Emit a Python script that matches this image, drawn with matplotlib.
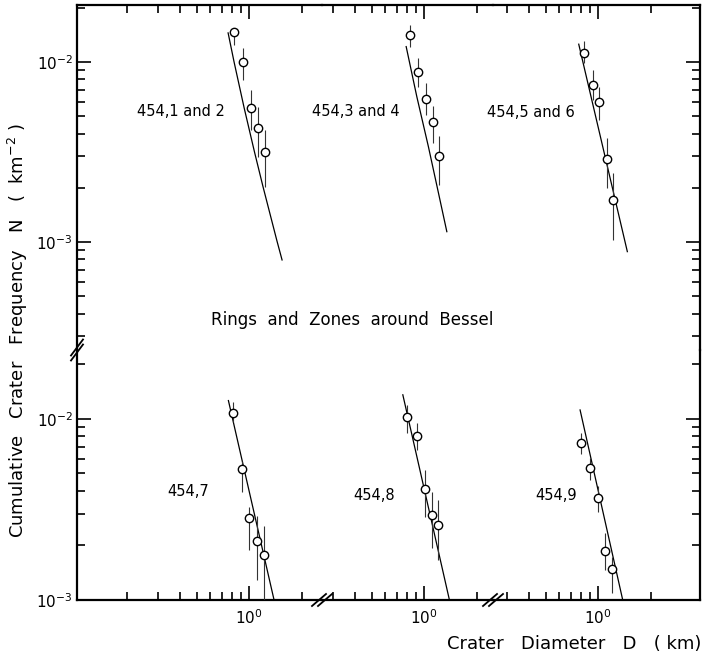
import matplotlib
matplotlib.use("Agg")
import matplotlib.pyplot as plt
from matplotlib import ticker, transforms

plt.rcParams['font.family'] = ['DejaVu Sans']

# panel labels (row-major: top row then bottom row)
labels = ["454,1 and 2", "454,3 and 4", "454,5 and 6", "454,7", "454,8", "454,9"]

# crater diameter D (km), cumulative frequency N (km^-2) with error range
d_12 = [0.820, 0.924, 1.027, 1.126, 1.235]
n_12 = [0.01468, 0.00994, 0.00555, 0.00430, 0.00316]
lo_12 = [0.01243, 0.00794, 0.00419, 0.00297, 0.00202]
hi_12 = [0.01545, 0.01196, 0.00699, 0.00562, 0.00419]
fit_d_12 = [0.758, 0.820, 0.937, 1.074, 1.203, 1.445, 1.546]
fit_n_12 = [0.01449, 0.01000, 0.00555, 0.00316, 0.00202, 0.001013, 0.000794]

d_34 = [0.831, 0.924, 1.027, 1.122, 1.219]
n_34 = [0.01413, 0.00883, 0.00623, 0.00466, 0.00301]
lo_34 = [0.01216, 0.00727, 0.00508, 0.00355, 0.00207]
hi_34 = [0.01607, 0.01052, 0.00764, 0.00570, 0.00388]
fit_d_34 = [0.789, 0.908, 1.058, 1.208, 1.349]
fit_n_34 = [0.01216, 0.00641, 0.00338, 0.00187, 0.00114]

d_56 = [0.831, 0.932, 1.017, 1.122, 1.224]
n_56 = [0.01118, 0.00745, 0.00602, 0.00289, 0.00171]
lo_56 = [0.00987, 0.00615, 0.00476, 0.00200, 0.001026]
hi_56 = [0.01313, 0.00903, 0.00727, 0.00379, 0.00242]
fit_d_56 = [0.775, 1.472]
fit_n_56 = [0.01254, 0.000883]

d_7 = [0.813, 0.908, 1.004, 1.116, 1.219]
n_7 = [0.01083, 0.00530, 0.00285, 0.00213, 0.00177]
lo_7 = [0.00962, 0.00394, 0.00189, 0.00129, 0.00100]
hi_7 = [0.01247, 0.00589, 0.00328, 0.00291, 0.00256]
fit_d_7 = [0.761, 1.391]
fit_n_7 = [0.01262, 0.00100]

d_8 = [0.802, 0.908, 1.009, 1.111, 1.198]
n_8 = [0.01030, 0.00805, 0.00409, 0.00294, 0.00259]
lo_8 = [0.00834, 0.00674, 0.00288, 0.00193, 0.00166]
hi_8 = [0.01195, 0.00954, 0.00523, 0.00396, 0.00357]
fit_d_8 = [0.755, 1.396]
fit_n_8 = [0.01358, 0.00100]

d_9 = [0.802, 0.900, 1.000, 1.102, 1.209]
n_9 = [0.00734, 0.00538, 0.00365, 0.00187, 0.00148]
lo_9 = [0.00641, 0.00460, 0.00308, 0.00147, 0.00109]
hi_9 = [0.00834, 0.00607, 0.00424, 0.00234, 0.00173]
fit_d_9 = [0.789, 1.385]
fit_n_9 = [0.0112, 0.00100]

panels = [
    (d_12, n_12, lo_12, hi_12, fit_d_12, fit_n_12),
    (d_34, n_34, lo_34, hi_34, fit_d_34, fit_n_34),
    (d_56, n_56, lo_56, hi_56, fit_d_56, fit_n_56),
    (d_7, n_7, lo_7, hi_7, fit_d_7, fit_n_7),
    (d_8, n_8, lo_8, hi_8, fit_d_8, fit_n_8),
    (d_9, n_9, lo_9, hi_9, fit_d_9, fit_n_9),
]

# broken axes: x range of each column, y range of each row
x_ranges = [(0.103, 2.62), (0.26, 2.48), (0.25, 3.84)]
y_ranges = [(2.51e-4, 0.0207), (1e-3, 0.024)]
x_minor = [0.2, 0.3, 0.4, 0.5, 0.6, 0.7, 0.8, 0.9, 2]
y_minor = [k * 10.0**e for e in (-4, -3, -2) for k in range(2, 10)]

W, H = 702, 656
col_px = [(77, 322), (322, 493), (493, 700)]
row_px = [(5, 350), (350, 600)]
label_pos = [(0.424, 0.69), (0.20, 0.69), (0.184, 0.687),
             (0.453, 0.432), (0.304, 0.42), (0.304, 0.42)]

fig = plt.figure(figsize=(W / 100, H / 100), dpi=100)

axes = []
for r in range(2):
    for c in range(3):
        x0, x1 = col_px[c]
        y0, y1 = row_px[r]
        ax = fig.add_axes([x0 / W, (H - y1) / H, (x1 - x0) / W, (y1 - y0) / H])
        ax.set_xscale('log')
        ax.set_yscale('log')
        ax.set_xlim(*x_ranges[c])
        ax.set_ylim(*y_ranges[r])
        ax.patch.set_alpha(0)

        for s in ax.spines.values():
            s.set_linewidth(1.6)
        ax.spines['top'].set_visible(r == 0)
        ax.spines['bottom'].set_visible(r == 1)
        ax.spines['left'].set_visible(c == 0)
        ax.spines['right'].set_visible(c == 2)

        ax.xaxis.set_major_locator(ticker.FixedLocator([1.0]))
        ax.xaxis.set_minor_locator(ticker.FixedLocator(x_minor))
        ax.yaxis.set_major_locator(ticker.FixedLocator([1e-3, 1e-2]))
        ax.yaxis.set_minor_locator(ticker.FixedLocator(y_minor))
        ax.xaxis.set_minor_formatter(ticker.NullFormatter())
        ax.yaxis.set_minor_formatter(ticker.NullFormatter())

        ax.tick_params(which='both', direction='in', width=1.2,
                       top=(r == 0), bottom=(r == 1),
                       left=(c == 0), right=(c == 2),
                       labeltop=False, labelbottom=(r == 1),
                       labelleft=(c == 0), labelright=False,
                       labelsize=11)
        ax.tick_params(which='major', length=10)
        ax.tick_params(which='minor', length=6)
        ax.tick_params(axis='x', pad=6)
        ax.tick_params(axis='y', pad=3)

        d, n, lo, hi, fd, fn = panels[r * 3 + c]
        ax.plot(fd, fn, color='black', lw=0.9, zorder=2)
        yerr = [[v - l for v, l in zip(n, lo)], [h - v for v, h in zip(n, hi)]]
        ax.errorbar(d, n, yerr=yerr, fmt='o', ms=6, mfc='white', mec='black',
                    mew=1.0, ecolor='0.2', elinewidth=0.8, capsize=0, zorder=3)
        lx, ly = label_pos[r * 3 + c]
        ax.text(lx, ly, labels[r * 3 + c], transform=ax.transAxes,
                ha='center', va='center', fontsize=10.5)
        axes.append(ax)


def break_mark(ax, xa, ya, dx, dy, gap_x, gap_y):
    # two short parallel slashes drawn across a spine
    tr = fig.dpi_scale_trans + transforms.ScaledTranslation(xa, ya, ax.transAxes)
    for k in (-0.5, 0.5):
        ox, oy = k * gap_x / 100, k * gap_y / 100
        ax.plot([ox - dx / 100, ox + dx / 100], [oy - dy / 100, oy + dy / 100],
                transform=tr, color='black', lw=1.3, clip_on=False, zorder=5)


# y-axis break on left spine, x-axis breaks on bottom spine
break_mark(axes[3], 0, 1, 6, 8, 0, 5)
break_mark(axes[4], 0, 0, 7, 6, 6, 0)
break_mark(axes[5], 0, 0, 7, 6, 6, 0)

fig.text(352 / W, (H - 320) / H, "Rings  and  Zones  around  Bessel",
         ha='center', va='center', fontsize=12)
fig.text(18 / W, (H - 331) / H,
         "Cumulative   Crater   Frequency   N   (  km$^{-2}$ )",
         rotation=90, ha='center', va='center', fontsize=13)
fig.text(701 / W, (H - 644) / H, "Crater   Diameter   D   ( km)",
         ha='right', va='center', fontsize=13)

fig.savefig("out.png", dpi=100)
